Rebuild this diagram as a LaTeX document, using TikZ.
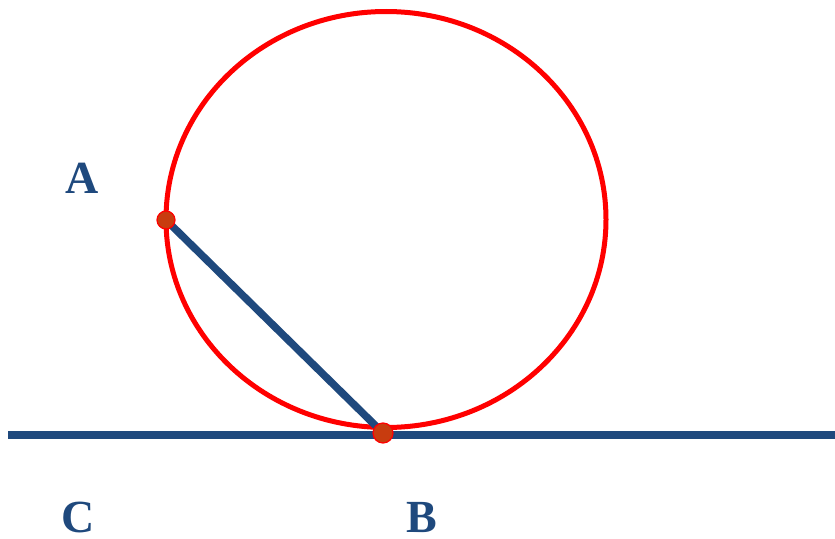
\documentclass[tikz,border=0pt]{standalone}
\usepackage{fontspec}
\setmainfont{Liberation Serif}
\definecolor{navy}{RGB}{31,73,125}
\definecolor{dotfill}{RGB}{200,60,15}
\begin{document}
\begin{tikzpicture}[x=1pt,y=-1pt,
  lbl/.style={text=navy,font=\fontsize{46}{46}\selectfont\bfseries,inner sep=0pt,text height=31pt,text depth=0pt},
  pt/.style={circle,fill=dotfill,draw=red,line width=1.2pt,minimum size=18pt,inner sep=0pt},
  bline/.style={draw=navy,line width=7.5pt}]
\useasboundingbox (0,0) rectangle (835,538);
\draw[red,line width=5pt] (386,219.5) ellipse [x radius=220, y radius=208];
\coordinate (L) at (8,435);
\coordinate (R) at (835,435);
\draw[bline] (L) -- (R);
\coordinate (Ac) at (166,220);
\coordinate (Bc) at (383,433);
\draw[bline] (Ac) -- (Bc);
\node[pt] (A) at (Ac) {};
\node[pt,minimum size=20pt] (B) at (Bc) {};
\node[lbl] (la) at (82,178) {A};
\node[lbl] (lc) at (78,517) {C};
\node[lbl] (lb) at (422,517) {B};
\end{tikzpicture}
\end{document}
